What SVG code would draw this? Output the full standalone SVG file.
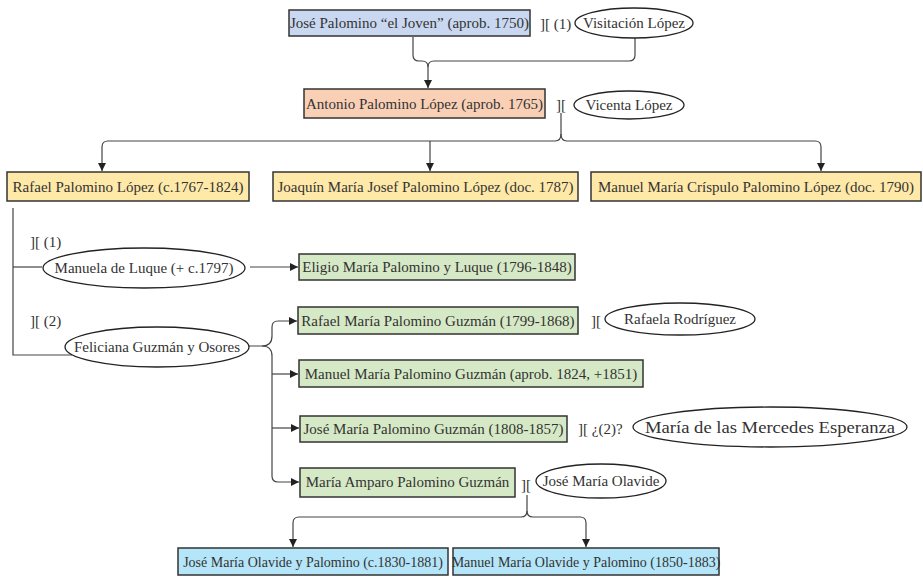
<svg xmlns="http://www.w3.org/2000/svg" width="923" height="578" viewBox="0 0 923 578">
<style>
text{font-family:"Liberation Serif","Times New Roman",serif;font-size:15px;fill:#333}
.c{text-anchor:middle}
.s{font-size:14px}
rect{stroke:#333;stroke-width:1.5}
ellipse{fill:#fff;stroke:#222;stroke-width:1.3}
.blue{fill:#c9d8f0}.peach{fill:#f9cfb6}.yel{fill:#ffe9a8}.grn{fill:#d6e9c6}.cyan{fill:#b5e5f8}
#connectors path{fill:none;stroke:#444;stroke-width:1.2}
</style>
<defs>
<marker id="ar" viewBox="0 0 10 10" refX="10" refY="5" markerWidth="8" markerHeight="8" markerUnits="userSpaceOnUse" orient="auto">
<path d="M0,0 L10,5 L0,10 z" fill="#222"/>
</marker>
</defs>
<g id="connectors">
<path d="M413,37 L413,55 Q413,61 419,61 L422,61 Q428,61 428,67 L428,88" marker-end="url(#ar)"/>
<path d="M635,38 L635,55 Q635,61 629,61 L434,61 Q428,61 428,67"/>
<path d="M561,113 L561,134 Q561,141 555,141 L108,141 Q102,141 102,147 L102,171" marker-end="url(#ar)"/>
<path d="M561,134 Q561,141 567,141 L815,141 Q821,141 821,147 L821,171" marker-end="url(#ar)"/>
<path d="M430,141 L430,171" marker-end="url(#ar)"/>
<path d="M13,208 L13,355 L72,355"/>
<path d="M13,267 L42,267"/>
<path d="M250,267 L298,267" marker-end="url(#ar)"/>
<path d="M248,346 L262,346 Q272,346 272,336 L272,327 Q272,321 278,321 L297,321" marker-end="url(#ar)"/>
<path d="M262,346 Q272,346 272,356 L272,476 Q272,482 278,482 L299,482" marker-end="url(#ar)"/>
<path d="M272,374 L298,374" marker-end="url(#ar)"/>
<path d="M272,428 L299,428" marker-end="url(#ar)"/>
<path d="M527,495 L527,511 Q527,517 521,517 L299,517 Q293,517 293,523 L293,547" marker-end="url(#ar)"/>
<path d="M527,511 Q527,517 533,517 L580,517 Q586,517 586,523 L586,547" marker-end="url(#ar)"/>
</g>
<g id="jose-palomino"><rect class="blue" x="289" y="10" width="241" height="26"/><text class="c" x="409.5" y="28">José Palomino “el Joven” (aprob. 1750)</text></g>
<g id="m1"><text x="540" y="29">][ (1)</text></g>
<g id="visitacion"><ellipse cx="634" cy="23" rx="59" ry="15"/><text class="c" x="634" y="28">Visitación López</text></g>
<g id="antonio"><rect class="peach" x="304" y="89" width="241" height="29"/><text class="c" x="424.5" y="108.5">Antonio Palomino López (aprob. 1765)</text></g>
<g id="m2"><text x="556" y="110">][</text></g>
<g id="vicenta"><ellipse cx="629" cy="105" rx="55" ry="14"/><text class="c" x="629" y="110">Vicenta López</text></g>
<g id="rafael"><rect class="yel" x="7" y="172" width="242" height="29"/><text class="c" x="128" y="191.5">Rafael Palomino López (c.1767-1824)</text></g>
<g id="joaquin"><rect class="yel" x="273" y="172" width="305" height="29"/><text class="c" x="425.5" y="191.5">Joaquín María Josef Palomino López (doc. 1787)</text></g>
<g id="manuel-crispulo"><rect class="yel" x="591" y="172" width="330" height="29"/><text class="c" x="756" y="191.5">Manuel María Críspulo Palomino López (doc. 1790)</text></g>
<g id="m3"><text x="30" y="247">][ (1)</text></g>
<g id="manuela"><ellipse cx="144" cy="268" rx="101" ry="20"/><text class="c" x="144" y="273">Manuela de Luque (+ c.1797)</text></g>
<g id="eligio"><rect class="grn" x="299" y="254" width="276" height="26"/><text class="c" x="437" y="272">Eligio María Palomino y Luque (1796-1848)</text></g>
<g id="m4"><text x="30" y="326">][ (2)</text></g>
<g id="feliciana"><ellipse cx="157" cy="347" rx="92" ry="20"/><text class="c" x="157" y="352">Feliciana Guzmán y Osores</text></g>
<g id="rafael-maria"><rect class="grn" x="298" y="307" width="280" height="27"/><text class="c" x="438" y="325.5">Rafael María Palomino Guzmán (1799-1868)</text></g>
<g id="m5"><text x="591" y="326">][</text></g>
<g id="rafaela"><ellipse cx="680" cy="319" rx="75" ry="16"/><text class="c" x="680" y="324">Rafaela Rodríguez</text></g>
<g id="manuel-maria"><rect class="grn" x="299" y="360" width="344" height="27"/><text class="c" x="471" y="378.5">Manuel María Palomino Guzmán (aprob. 1824, +1851)</text></g>
<g id="jose-maria"><rect class="grn" x="300" y="416" width="267" height="26"/><text class="c" x="433.5" y="434">José María Palomino Guzmán (1808-1857)</text></g>
<g id="m6"><text x="578" y="434">][ ¿(2)?</text></g>
<g id="mercedes"><ellipse cx="770" cy="427" rx="137" ry="20"/><text class="c" x="770" y="432.5" style="font-size:16px" textLength="250" lengthAdjust="spacingAndGlyphs">María de las Mercedes Esperanza</text></g>
<g id="amparo"><rect class="grn" x="300" y="468" width="215" height="29"/><text class="c" x="407.5" y="487">María Amparo Palomino Guzmán</text></g>
<g id="m7"><text x="521" y="490">][</text></g>
<g id="olavide"><ellipse cx="601" cy="481" rx="65" ry="17"/><text class="c" x="601" y="486">José María Olavide</text></g>
<g id="jose-olavide"><rect class="cyan" x="178" y="548" width="270" height="27"/><text class="c s" x="313" y="566.5">José María Olavide y Palomino (c.1830-1881)</text></g>
<g id="manuel-olavide"><rect class="cyan" x="453" y="548" width="266" height="27"/><text class="c s" x="586" y="566.5">Manuel María Olavide y Palomino (1850-1883)</text></g>
</svg>
